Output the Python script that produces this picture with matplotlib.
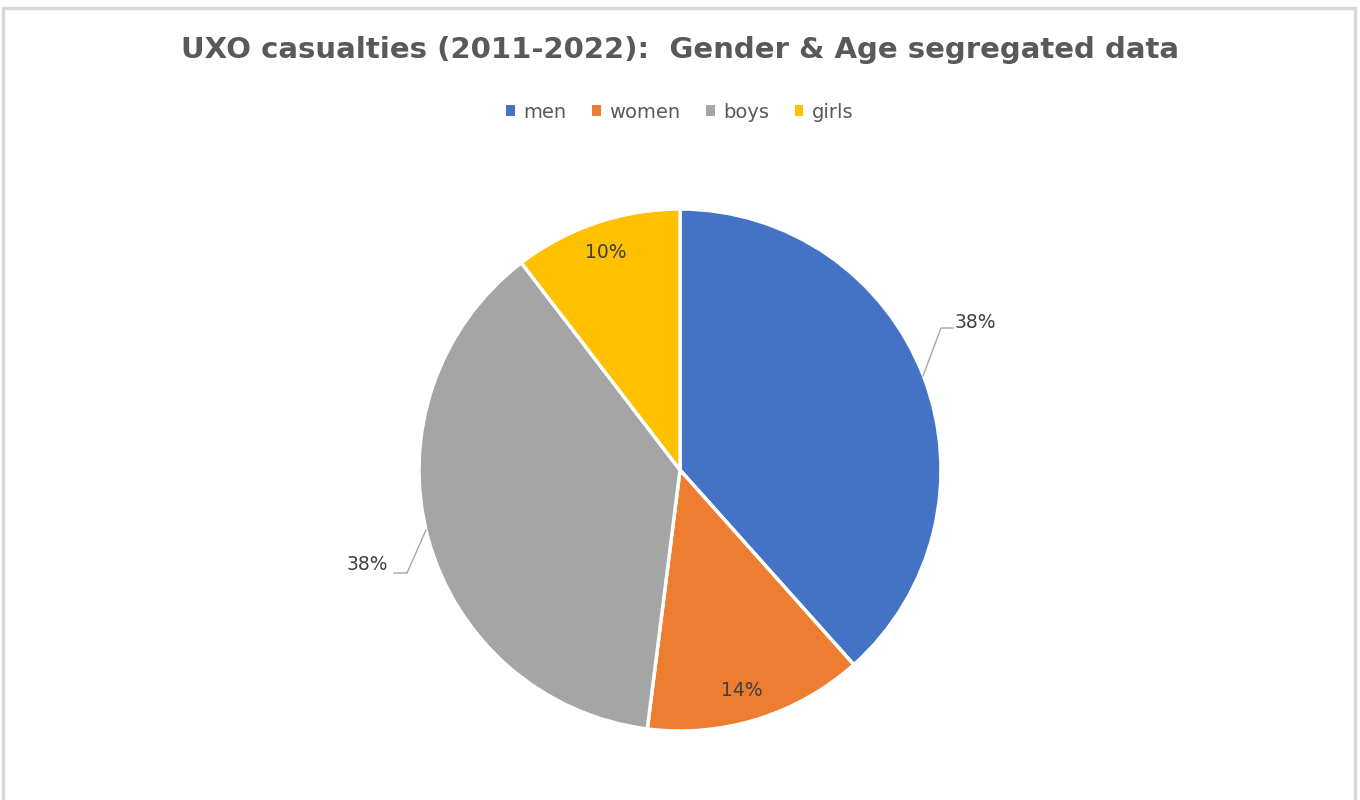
import matplotlib.pyplot as plt
from matplotlib.patches import Rectangle, Patch

# =====================================================
# DATA
# =====================================================

groups = ["men", "women", "boys", "girls"]
shares = [38.4, 13.6, 37.6, 10.4]
colors = ["#4472C4", "#ED7D31", "#A5A5A5", "#FFC000"]

title = "UXO casualties (2011-2022):  Gender & Age segregated data"

# =====================================================
# FIGURE
# =====================================================

fig = plt.figure(figsize=(13.6, 8), dpi=100)
ax = fig.add_axes([0, 0, 1, 1])

# chart area border
ax.add_patch(Rectangle((3, -5), 1352, 797, fill=False,
                       edgecolor="#D9D9D9", linewidth=2.5))

wedges, _ = ax.pie(
    shares,
    colors=colors,
    startangle=90,
    counterclock=False,
    center=(680, 330),
    radius=261,
    wedgeprops=dict(edgecolor="white", linewidth=2.5),
    frame=True,
)
ax.set_xlim(0, 1360)
ax.set_ylim(0, 800)
ax.set_aspect("equal")
ax.axis("off")

label_color = "#404040"
pct = [f"{round(s)}%" for s in shares]

# men (outside, leader line)
ax.plot([923, 941, 953], [800 - 376, 800 - 328, 800 - 328],
        color="#A6A6A6", linewidth=1)
ax.text(955, 800 - 323, pct[0], fontsize=13.5, color=label_color,
        ha="left", va="center")

# women (inside)
ax.text(742, 800 - 690, pct[1], fontsize=13.5, color=label_color,
        ha="center", va="center")

# boys (outside, leader line)
ax.plot([426, 407, 394], [800 - 530, 800 - 573, 800 - 573],
        color="#A6A6A6", linewidth=1)
ax.text(388, 800 - 565, pct[2], fontsize=13.5, color=label_color,
        ha="right", va="center")

# girls (inside)
ax.text(606, 800 - 253, pct[3], fontsize=13.5, color=label_color,
        ha="center", va="center")

# title
fig.text(0.5, 1 - 50 / 800, title, fontsize=21, fontweight="bold",
         color="#595959", ha="center", va="center")

# legend
handles = [Patch(facecolor=c, edgecolor="none") for c in colors]
fig.legend(handles, groups, loc="center", bbox_to_anchor=(0.5, 1 - 112 / 800),
           ncol=4, frameon=False, fontsize=14, labelcolor="#595959",
           handlelength=0.45, handleheight=0.45, handletextpad=0.45,
           columnspacing=1.3)

fig.savefig("out.png", dpi=100, facecolor="white")
